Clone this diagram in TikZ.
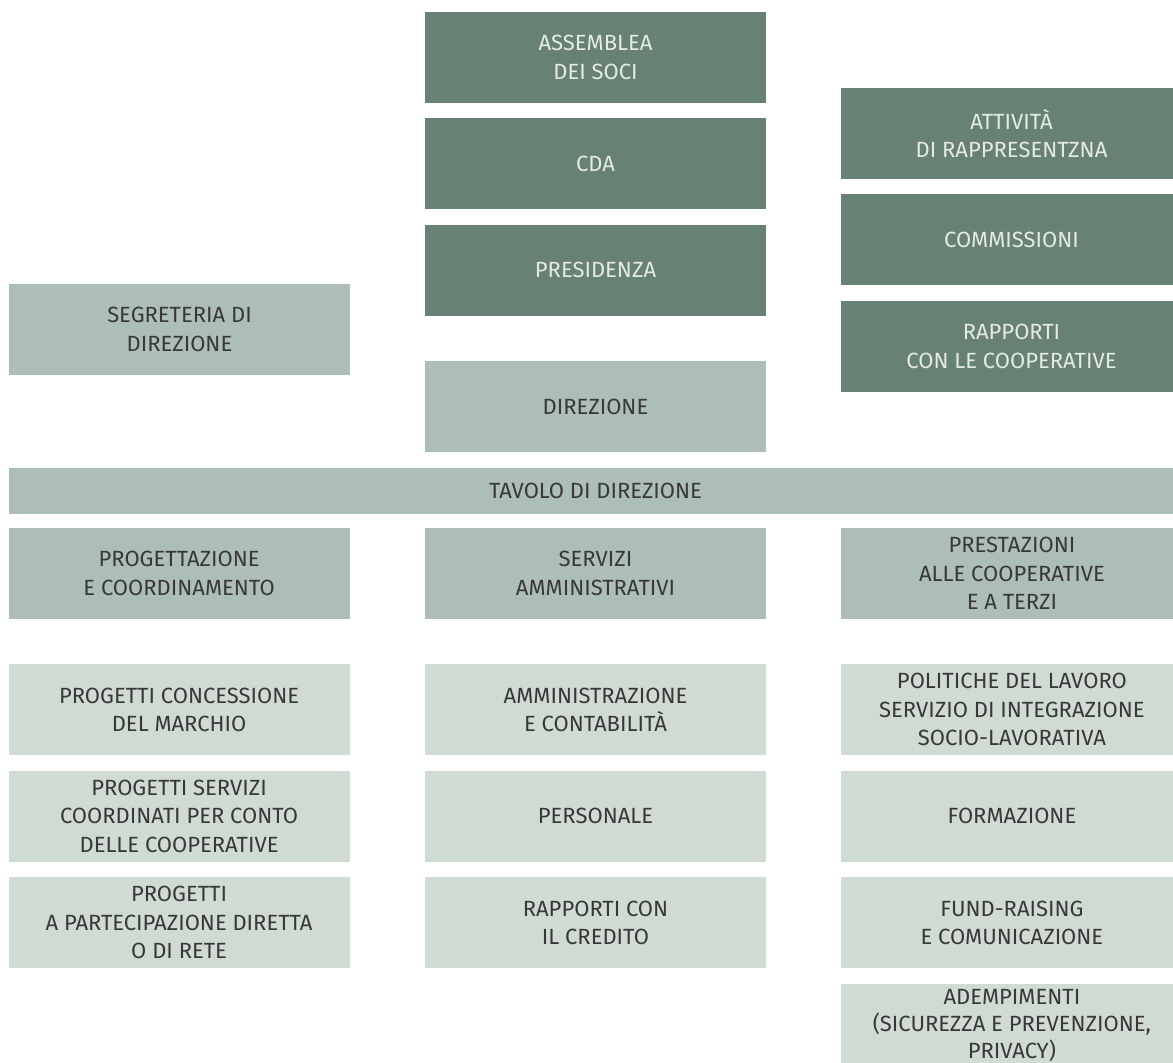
\documentclass[tikz,border=0pt]{standalone}
\usepackage{fontspec}
\setmainfont{Fira Sans}
\usetikzlibrary{positioning}
\definecolor{dkgreen}{HTML}{688175}
\definecolor{mdgreen}{HTML}{ADBEB6}
\definecolor{ltgreen}{HTML}{CFDBD3}
\definecolor{lighttext}{HTML}{E4EAE6}
\definecolor{darktext}{HTML}{383838}
\begin{document}
\begin{tikzpicture}[x=1pt,y=1pt,node distance=15pt,
  box/.style={rectangle,minimum width=341pt,minimum height=91pt,inner sep=0pt,
    align=center,font=\fontsize{22}{28.5}\selectfont},
  dark/.style={box,fill=dkgreen,text=lighttext},
  mid/.style={box,fill=mdgreen,text=darktext},
  pale/.style={box,fill=ltgreen,text=darktext}]
 % \draw[help lines] (0,0) grid (1173,-1063);
  \useasboundingbox (0,0) rectangle (1173,-1063);
  % top: governing bodies
  \node[dark] (asm) at (595.5,-57.5)  {ASSEMBLEA\\DEI SOCI};
  \node[dark] (cda) [below=of asm]    {CDA};
  \node[dark] (pres) [below=of cda]   {PRESIDENZA};
  \node[mid] (dir) [below=45pt of pres] {DIREZIONE};
  \node[mid] (segr) at (179.5,-329.5) {SEGRETERIA DI\\DIREZIONE};
  \node[dark] (att) at (1011.5,-133.5) {ATTIVITÀ\\DI RAPPRESENTZNA};
  \node[dark] (comm) [below=of att]   {COMMISSIONI};
  \node[dark] (rapp) [below=of comm]  {RAPPORTI\\CON LE COOPERATIVE};
  \node[mid,minimum width=1173pt,minimum height=46pt] (tav) [below=of dir] {TAVOLO DI DIREZIONE};
  % areas
  \node[mid] (serv) [below=14pt of tav]  {SERVIZI\\AMMINISTRATIVI};
  \node[mid] (prog) [left=75pt of serv]  {PROGETTAZIONE\\E COORDINAMENTO};
  \node[mid] (prest) [right=75pt of serv] {PRESTAZIONI\\ALLE COOPERATIVE\\E A TERZI};
  % left column
  \node[pale] (marc) [below=45pt of prog] {PROGETTI CONCESSIONE\\DEL MARCHIO};
  \node[pale] (coord) [below=of marc]    {PROGETTI SERVIZI\\COORDINATI PER CONTO\\DELLE COOPERATIVE};
  \node[pale] (part) [below=of coord]    {PROGETTI\\A PARTECIPAZIONE DIRETTA\\O DI RETE};
  % centre column
  \node[pale] (amm) [below=45pt of serv] {AMMINISTRAZIONE\\E CONTABILITÀ};
  \node[pale] (pers) [below=of amm]      {PERSONALE};
  \node[pale] (cred) [below=of pers]     {RAPPORTI CON\\IL CREDITO};
  % right column
  \node[pale] (pol) [below=45pt of prest] {POLITICHE DEL LAVORO\\SERVIZIO DI INTEGRAZIONE\\SOCIO-LAVORATIVA};
  \node[pale] (form) [below=of pol]      {FORMAZIONE};
  \node[pale] (fund) [below=of form]     {FUND-RAISING\\E COMUNICAZIONE};
  \node[pale,minimum height=83pt,font=\fontsize{22}{27}\selectfont] (adem) [below=of fund] {ADEMPIMENTI\\(SICUREZZA E PREVENZIONE,\\PRIVACY)};
\end{tikzpicture}
\end{document}
